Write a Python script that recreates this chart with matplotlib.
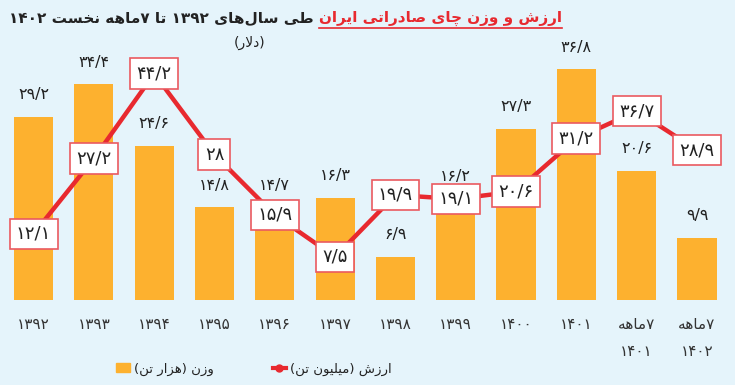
import matplotlib
matplotlib.use("Agg")
import matplotlib.pyplot as plt
from matplotlib.lines import Line2D
from matplotlib.patches import Patch

# --- data -------------------------------------------------------------
years = ["۱۳۹۲", "۱۳۹۳", "۱۳۹۴", "۱۳۹۵", "۱۳۹۶", "۱۳۹۷", "۱۳۹۸",
         "۱۳۹۹", "۱۴۰۰", "۱۴۰۱", "۷ماهه\n۱۴۰۱", "۷ماهه\n۱۴۰۲"]
weight = [29.2, 34.4, 24.6, 14.8, 14.7, 16.3, 6.9, 16.2, 27.3, 36.8, 20.6, 9.9]
value = [12.1, 27.2, 44.2, 28, 15.9, 7.5, 19.9, 19.1, 20.6, 31.2, 36.7, 28.9]

title_red = "ارزش و وزن چای صادراتی ایران"
title_black = "طی سال‌های ۱۳۹۲ تا ۷ماهه نخست ۱۴۰۲"
unit_note = "(دلار)"
legend_weight = "وزن (هزار تن)"
legend_value = "ارزش (میلیون تن)"

# --- tiny persian shaper (matplotlib has no complex text layout) ---------
# isolated, final, initial, medial
FORMS = {
    'ا': (0xFE8D, 0xFE8E), 'آ': (0xFE81, 0xFE82), 'د': (0xFEA9, 0xFEAA),
    'ذ': (0xFEAB, 0xFEAC), 'ر': (0xFEAD, 0xFEAE), 'ز': (0xFEAF, 0xFEB0),
    'ژ': (0xFB8A, 0xFB8B), 'و': (0xFEED, 0xFEEE),
    'ب': (0xFE8F, 0xFE90, 0xFE91, 0xFE92), 'پ': (0xFB56, 0xFB57, 0xFB58, 0xFB59),
    'ت': (0xFE95, 0xFE96, 0xFE97, 0xFE98), 'ث': (0xFE99, 0xFE9A, 0xFE9B, 0xFE9C),
    'ج': (0xFE9D, 0xFE9E, 0xFE9F, 0xFEA0), 'چ': (0xFB7A, 0xFB7B, 0xFB7C, 0xFB7D),
    'ح': (0xFEA1, 0xFEA2, 0xFEA3, 0xFEA4), 'خ': (0xFEA5, 0xFEA6, 0xFEA7, 0xFEA8),
    'س': (0xFEB1, 0xFEB2, 0xFEB3, 0xFEB4), 'ش': (0xFEB5, 0xFEB6, 0xFEB7, 0xFEB8),
    'ص': (0xFEB9, 0xFEBA, 0xFEBB, 0xFEBC), 'ض': (0xFEBD, 0xFEBE, 0xFEBF, 0xFEC0),
    'ط': (0xFEC1, 0xFEC2, 0xFEC3, 0xFEC4), 'ظ': (0xFEC5, 0xFEC6, 0xFEC7, 0xFEC8),
    'ع': (0xFEC9, 0xFECA, 0xFECB, 0xFECC), 'غ': (0xFECD, 0xFECE, 0xFECF, 0xFED0),
    'ف': (0xFED1, 0xFED2, 0xFED3, 0xFED4), 'ق': (0xFED5, 0xFED6, 0xFED7, 0xFED8),
    'ک': (0xFB8E, 0xFB8F, 0xFB90, 0xFB91), 'گ': (0xFB92, 0xFB93, 0xFB94, 0xFB95),
    'ل': (0xFEDD, 0xFEDE, 0xFEDF, 0xFEE0), 'م': (0xFEE1, 0xFEE2, 0xFEE3, 0xFEE4),
    'ن': (0xFEE5, 0xFEE6, 0xFEE7, 0xFEE8), 'ه': (0xFEE9, 0xFEEA, 0xFEEB, 0xFEEC),
    'ی': (0xFEEF, 0xFEF0, 0xFEF3, 0xFEF4),
}
LTR = set("۰۱۲۳۴۵۶۷۸۹0123456789/.")
FA_DIGITS = str.maketrans("0123456789", "۰۱۲۳۴۵۶۷۸۹")


def shape(s):
    out = []
    i = 0
    while i < len(s):
        c = s[i]
        if c not in FORMS:
            if c != '\u200c':
                out.append(c)
            i += 1
            continue
        p = s[i - 1] if i > 0 else ''
        prev_j = p in FORMS and len(FORMS[p]) == 4
        if c == 'ل' and i + 1 < len(s) and s[i + 1] == 'ا':
            out.append(chr(0xFEFC if prev_j else 0xFEFB))
            i += 2
            continue
        n = s[i + 1] if i + 1 < len(s) else ''
        next_j = len(FORMS[c]) == 4 and n in FORMS
        f = FORMS[c]
        if prev_j and next_j:
            ch = f[3]
        elif next_j:
            ch = f[2]
        elif prev_j:
            ch = f[1]
        else:
            ch = f[0]
        out.append(chr(ch))
        i += 1
    return ''.join(out)


def fa(s):
    lines = []
    for line in s.split('\n'):
        t = shape(line)
        runs, cur = [], ''
        for c in t:
            if cur and ((c in LTR) != (cur[-1] in LTR)):
                runs.append(cur)
                cur = ''
            cur += c
        if cur:
            runs.append(cur)
        vis = ''
        for r in reversed(runs):
            if r[0] in LTR:
                vis += r
            else:
                vis += r[::-1].translate(str.maketrans('()', ')('))
        lines.append(vis)
    return '\n'.join(lines)


def num(v):
    return f"{v:g}".replace('.', '/').translate(FA_DIGITS)


# --- style -----------------------------------------------------------
BG = "#e5f4fb"
ORANGE = "#fdb12f"
RED = "#e8292f"
BOX_EDGE = "#ea5a60"
TXT = "#222222"
plt.rcParams['font.family'] = ['DejaVu Sans']

W, H = 735, 385
fig = plt.figure(figsize=(W / 100, H / 100), dpi=100, facecolor=BG)

# axis: bottom at y=300px, top at y=40px
ax = fig.add_axes([0, (H - 300) / H, 1, 260 / H])
ax.set_facecolor(BG)
x = list(range(len(years)))
ax.bar(x, weight, width=0.65, color=ORANGE, zorder=2)
ax.set_xlim(-0.556, 11.63)
ax.set_ylim(0, 260 / 6.27)
for i, w in zip(x, weight):
    ax.text(i, w + 3.5, num(w), ha='center', va='center', fontsize=11.5,
            color=TXT, zorder=3)

ax.set_xticks(x)
ax.set_xticklabels([fa(y) for y in years], fontsize=11, color="#333333", linespacing=2.0)
ax.tick_params(axis='x', length=0, pad=12)
for lab in ax.get_xticklabels():
    lab.set_verticalalignment('top')
ax.set_yticks([])
for s in ax.spines.values():
    s.set_visible(False)

ax2 = ax.twinx()
ax2.set_ylim(-6 / 5.22, 266 / 5.22)
ax2.plot(x, value, color=RED, lw=3.2, zorder=2, solid_capstyle='round')
for i, v in zip(x, value):
    ax2.text(i, v, num(v), ha='center', va='center', fontsize=13, color=TXT, zorder=4,
             bbox=dict(boxstyle='square,pad=0.35', fc='white', ec=BOX_EDGE, lw=1.2))
ax2.set_yticks([])
for s in ax2.spines.values():
    s.set_visible(False)

# --- title -----------------------------------------------------------
ty = 1 - 18 / H
t_red = fig.text(0, ty, fa(title_red), ha='right', va='center', fontsize=11,
                 fontweight='bold', color=RED)
t_blk = fig.text(0, ty, fa(title_black), ha='right', va='center', fontsize=11,
                 fontweight='bold', color=TXT)
fig.canvas.draw()
r = fig.canvas.get_renderer()
w_red = t_red.get_window_extent(r).width
w_blk = t_blk.get_window_extent(r).width
right = max(452, w_red + w_blk + 14)
t_red.set_x(right / W)
t_blk.set_x((right - w_red - 5) / W)
fig.add_artist(Line2D([(right - w_red) / W, right / W], [1 - 28 / H] * 2, color=RED,
                      lw=1.2, transform=fig.transFigure))
fig.text(250 / W, 1 - 43 / H, fa(unit_note), ha='center', va='center', fontsize=10, color=TXT)

# --- legend ----------------------------------------------------------
handles = [Patch(color=ORANGE), Line2D([], [], color=RED, lw=3, marker='o', ms=5)]
fig.legend(handles, [fa(legend_weight), fa(legend_value)], ncol=2, frameon=False,
           loc='center', bbox_to_anchor=(254 / W, 1 - 369 / H), fontsize=9.5,
           handlelength=1.0, handletextpad=0.3, columnspacing=4.5, labelcolor=TXT)

fig.savefig("out.png", dpi=100, facecolor=BG)
